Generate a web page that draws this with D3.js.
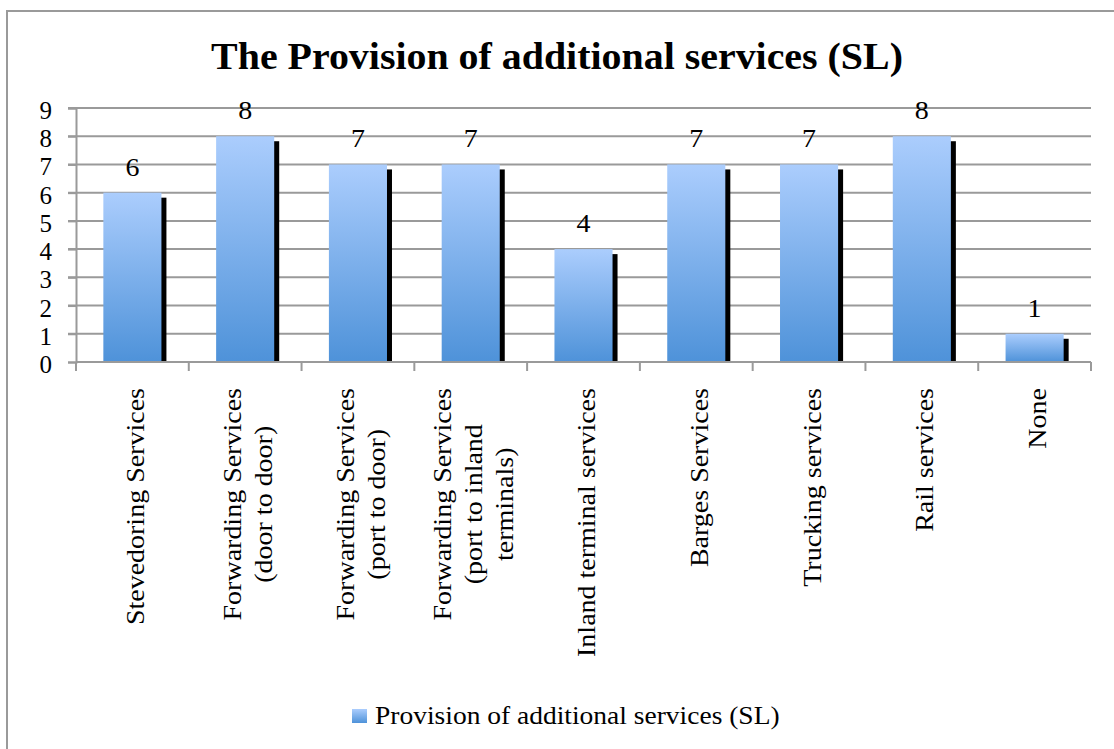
<!DOCTYPE html>
<html>
<head>
<meta charset="utf-8">
<script src="https://cdn.jsdelivr.net/npm/d3@7"></script>
<style>
  html, body { margin: 0; padding: 0; background: #fff; }
  svg { display: block; }
</style>
</head>
<body>
<div id="chart"></div>
<script>
// chart data
const title = "The Provision of additional services (SL)";
const seriesName = "Provision of additional services (SL)";
const categories = [
  ["Stevedoring Services"],
  ["Forwarding Services", "(door to door)"],
  ["Forwarding Services", "(port to door)"],
  ["Forwarding Services", "(port to inland", "terminals)"],
  ["Inland terminal services"],
  ["Barges Services"],
  ["Trucking services"],
  ["Rail services"],
  ["None"]
];
const values = [6, 8, 7, 7, 4, 7, 7, 8, 1];
const yTicks = [0, 1, 2, 3, 4, 5, 6, 7, 8, 9];

const width = 1114, height = 749;
const font = "'Liberation Serif', 'Times New Roman', serif";
const fontSize = 25;
const stretch = 1.12; // Liberation Serif is narrower than the original face
const gridColor = "#9a9a9a";

const svg = d3.select("#chart")
  .append("svg")
  .attr("width", width)
  .attr("height", height);

// bar gradient
const defs = svg.append("defs");
const grad = defs.append("linearGradient")
  .attr("id", "barGrad")
  .attr("x1", 0).attr("y1", 0)
  .attr("x2", 0).attr("y2", 1);
grad.append("stop").attr("offset", "0%").attr("stop-color", "#abcdfd");
grad.append("stop").attr("offset", "100%").attr("stop-color", "#4e92d9");

// outer frame
svg.append("rect")
  .attr("x", 7).attr("y", 11)
  .attr("width", 1110).attr("height", 750)
  .attr("fill", "none")
  .attr("stroke", gridColor)
  .attr("stroke-width", 2);

svg.append("text")
  .attr("transform", `translate(557,69) scale(1.05,1)`)
  .attr("text-anchor", "middle")
  .attr("font-family", font)
  .attr("font-weight", "bold")
  .attr("font-size", 38)
  .text(title);

const plot = { left: 76, right: 1091, top: 108, bottom: 362 };

const x = d3.scaleBand()
  .domain(d3.range(categories.length))
  .range([plot.left, plot.right])
  .padding(0);

const y = d3.scaleLinear()
  .domain([0, 9])
  .range([plot.bottom, plot.top]);

// gridlines
svg.append("g")
  .selectAll("line")
  .data(yTicks.slice(1))
  .join("line")
  .attr("x1", plot.left - 8)
  .attr("x2", plot.right)
  .attr("y1", d => y(d))
  .attr("y2", d => y(d))
  .attr("stroke", gridColor)
  .attr("stroke-width", 2);

// y axis
const yAxis = svg.append("g")
  .attr("transform", `translate(${plot.left},0)`)
  .call(d3.axisLeft(y).tickValues(yTicks).tickSize(8).tickPadding(16));
yAxis.select(".domain").attr("stroke", gridColor).attr("stroke-width", 2);
yAxis.selectAll(".tick line").attr("stroke", gridColor).attr("stroke-width", 2);
yAxis.selectAll(".tick text")
  .attr("font-family", font)
  .attr("font-size", fontSize)
  .attr("dy", "0.42em")
  .attr("fill", "#000");

// bars with shadow
const barW = x.bandwidth() * 0.515;
const bars = svg.append("g")
  .selectAll("g")
  .data(values)
  .join("g")
  .attr("transform", (d, i) => `translate(${x(i) + x.bandwidth() / 2},0)`);

bars.append("rect")
  .attr("x", -barW / 2 + 5)
  .attr("y", d => y(d) + 5)
  .attr("width", barW)
  .attr("height", d => y(0) - y(d) - 5)
  .attr("fill", "#000");

bars.append("rect")
  .attr("x", -barW / 2)
  .attr("y", d => y(d))
  .attr("width", barW)
  .attr("height", d => y(0) - y(d))
  .attr("fill", "url(#barGrad)");

bars.append("text")
  .attr("transform", d => `translate(0,${y(d) - 17}) scale(${stretch},1)`)
  .attr("text-anchor", "middle")
  .attr("font-family", font)
  .attr("font-size", fontSize)
  .text(d => d);

// x axis
const xAxisG = svg.append("g");
xAxisG.append("line")
  .attr("x1", plot.left).attr("x2", plot.right)
  .attr("y1", plot.bottom).attr("y2", plot.bottom)
  .attr("stroke", gridColor).attr("stroke-width", 2);
xAxisG.selectAll("line.tick")
  .data(d3.range(categories.length + 1))
  .join("line")
  .attr("class", "tick")
  .attr("x1", i => plot.left + i * x.step())
  .attr("x2", i => plot.left + i * x.step())
  .attr("y1", plot.bottom).attr("y2", plot.bottom + 9)
  .attr("stroke", gridColor).attr("stroke-width", 2);

// rotated category labels
const lineH = 31;
const labelTop = 388;
categories.forEach((lines, i) => {
  const cx = x(i) + x.bandwidth() / 2 + 3;
  const g = svg.append("g");
  const t = g.append("text")
    .attr("font-family", font)
    .attr("font-size", fontSize)
    .attr("text-anchor", "middle")
    .attr("dominant-baseline", "central");
  lines.forEach((ln, k) => {
    t.append("tspan")
      .attr("x", 0)
      .attr("y", (k - (lines.length - 1) / 2) * lineH)
      .text(ln);
  });
  const w = d3.max(t.selectAll("tspan").nodes(), n => n.getComputedTextLength()) * stretch;
  g.attr("transform", `translate(${cx},${labelTop + w / 2}) rotate(-90) scale(${stretch},1)`);
});

// legend
const legend = svg.append("g").attr("transform", "translate(352,709)");
legend.append("rect")
  .attr("width", 15).attr("height", 14)
  .attr("fill", "url(#barGrad)");
legend.append("text")
  .attr("transform", `translate(23,7) scale(1.1,1)`)
  .attr("dominant-baseline", "central")
  .attr("font-family", font)
  .attr("font-size", fontSize)
  .text(seriesName);
</script>
</body>
</html>
